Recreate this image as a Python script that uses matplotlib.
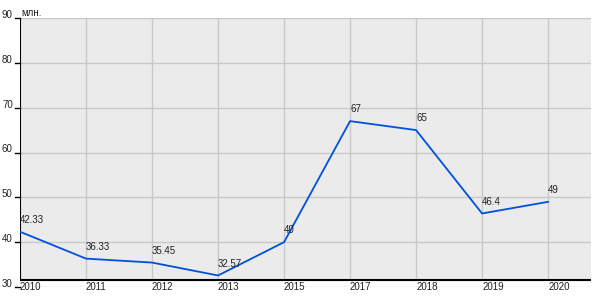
import matplotlib.pyplot as plt

plt.rcParams['font.family'] = ['Liberation Sans', 'DejaVu Sans']

years = ['2010', '2011', '2012', '2013', '2015', '2017', '2018', '2019', '2020']
values = [42.33, 36.33, 35.45, 32.57, 40, 67, 65, 46.4, 49]
labels = ['42.33', '36.33', '35.45', '32.57', '40', '67', '65', '46.4', '49']
yticks = [30, 40, 50, 60, 70, 80, 90]

base = 31.56  # where the black x-axis is drawn
fig = plt.figure(figsize=(6, 3), dpi=100)
ax = fig.add_axes([20 / 600, 13 / 300, 571 / 600, 269 / 300])
ax.set_xlim(0, 8.65)
ax.set_ylim(30, 90)
for s in ax.spines.values():
    s.set_visible(False)
ax.set_xticks([])
ax.set_yticks([])

ax.axhspan(base, 90, color='#ebebeb', zorder=0)
for y in yticks:
    ax.axhline(y, color='#c8c8c8', lw=1, zorder=1)
    ax.text(-0.11, y + 0.7, str(y), ha='right', va='center', fontsize=7, color='#222222', clip_on=False)
    ax.plot([-0.075, 0], [y, y], color='black', lw=1, clip_on=False)
x = list(range(len(years)))
ax.vlines(x[1:], base, 90, color='#c8c8c8', lw=1, zorder=1)
for i, yr in enumerate(years):
    ax.text(i, 30, yr, ha='left', va='center', fontsize=7, color='#222222')

ax.axvline(0, ymin=(base - 30) / 60, ymax=1, color='black', lw=1.5, zorder=3)
ax.axhline(base, color='black', lw=1.5, zorder=3)

ax.plot(x, values, color='#0050e0', lw=1.3, zorder=4)
for i, (v, lb) in enumerate(zip(values, labels)):
    ax.annotate(lb, (i, v), xytext=(0, 5), textcoords='offset points',
                ha='left', va='bottom', fontsize=7, color='#222222', zorder=5)

ax.text(0.002, 1.0, 'млн.', transform=ax.transAxes, ha='left', va='bottom', fontsize=7, color='#222222')

fig.savefig('out.png')
